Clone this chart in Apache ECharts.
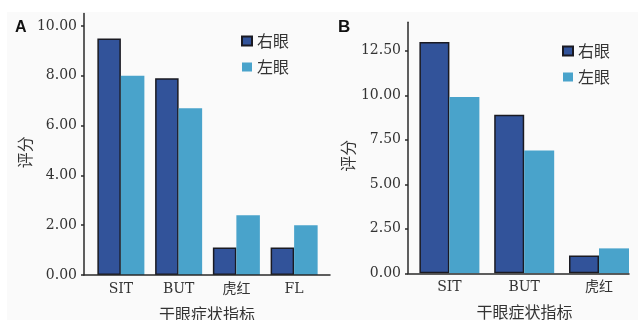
<!DOCTYPE html>
<html><head><meta charset="utf-8">
<script src="https://cdn.jsdelivr.net/npm/echarts@6/dist/echarts.min.js"></script>
<style>html,body{margin:0;padding:0;background:#fafafa}#c{width:638px;height:320px}</style>
</head><body><div id="c"></div>
<script>
var categoriesA = ['SIT', 'BUT', '虎红', 'FL'];
var rightEyeA = [9.5, 7.9, 1.1, 1.1];
var leftEyeA = [8.0, 6.7, 2.4, 2.0];
var ticksA = [0, 2, 4, 6, 8, 10];

var categoriesB = ['SIT', 'BUT', '虎红'];
var rightEyeB = [13.0, 8.9, 1.0];
var leftEyeB = [9.9, 6.9, 1.4];
var ticksB = [0, 2.5, 5, 7.5, 10, 12.5];

var seriesNames = ['右眼', '左眼'];

var DARK = '#32539a', LIGHT = '#49a3cb';
var serif = "'DejaVu Serif', 'Noto Sans CJK SC', serif";
var cjk = "'Noto Sans CJK SC', sans-serif";

var chart = echarts.init(document.getElementById('c'), null, {renderer: 'canvas'});

function labelAxis(gridIndex, max, ticks, nameGap) {
  return {
    type: 'value', gridIndex: gridIndex, min: 0, max: max,
    axisLine: {show: true, lineStyle: {color: '#2a2a2a', width: 1.5}},
    axisTick: {show: true, length: 3, customValues: ticks, lineStyle: {color: '#2a2a2a', width: 1.5}},
    axisLabel: {customValues: ticks, margin: 7, color: '#333', fontFamily: serif, fontSize: 14,
      formatter: function (v) { return v.toFixed(2); }},
    splitLine: {show: false},
    name: '评分', nameLocation: 'middle', nameGap: nameGap, nameRotate: 90,
    nameTextStyle: {fontFamily: cjk, fontSize: 16, color: '#333', padding: [0, 16, 0, 0]}
  };
}
function hiddenY(gridIndex, max) {
  return {type: 'value', gridIndex: gridIndex, min: 0, max: max, show: false, splitLine: {show: false}};
}
function lineX(gridIndex, padLeft) {
  return {
    type: 'value', gridIndex: gridIndex, min: 0, max: 1, z: 5,
    axisLine: {show: true, onZero: false, lineStyle: {color: '#2a2a2a', width: 1.5}},
    axisTick: {show: false}, axisLabel: {show: false}, splitLine: {show: false},
    name: '干眼症状指标', nameLocation: 'middle', nameGap: 31,
    nameTextStyle: {fontFamily: cjk, fontSize: 16, color: '#333', padding: [0, 0, 0, padLeft]}
  };
}
function catX(gridIndex, cats) {
  return {
    type: 'category', gridIndex: gridIndex, data: cats,
    axisLine: {show: false}, axisTick: {show: false},
    axisLabel: {margin: 7, color: '#333', fontFamily: serif, fontSize: 14}
  };
}
function barSeries(name, xi, yi, data, color, border, gap) {
  return {
    type: 'bar', name: name, xAxisIndex: xi, yAxisIndex: yi, data: data,
    barGap: '0%', barCategoryGap: gap,
    itemStyle: {color: color, borderColor: border, borderWidth: border === 'transparent' ? 0 : 1.5},
    emphasis: {disabled: true}
  };
}
function grid(l, r, t, b) {
  return {left: l, right: r, top: t, bottom: b, containLabel: false, outerBoundsMode: 'none'};
}

chart.setOption({
  backgroundColor: '#fafafa',
  animation: false,
  graphic: [
    {type: 'rect', shape: {x: 0, y: 0, width: 638, height: 12}, style: {fill: '#ffffff'}, z: -10},
    {type: 'rect', shape: {x: 0, y: 0, width: 7, height: 320}, style: {fill: '#ffffff'}, z: -10}
  ],
  title: [
    {text: 'A', left: 10, top: 15, textStyle: {fontFamily: "'Liberation Sans', Arial, sans-serif", fontWeight: 'bold', fontSize: 16, color: '#111'}},
    {text: 'B', left: 333, top: 14, textStyle: {fontFamily: "'Liberation Sans', Arial, sans-serif", fontWeight: 'bold', fontSize: 17, color: '#111'}}
  ],
  legend: [
    {data: seriesNames, orient: 'vertical', left: 236, top: 28, itemWidth: 10, itemHeight: 9, itemGap: 10, icon: 'rect',
      textStyle: {fontFamily: cjk, fontSize: 16, color: '#333'}, selectedMode: false},
    {data: seriesNames, orient: 'vertical', left: 557, top: 38, itemWidth: 10, itemHeight: 9, itemGap: 10, icon: 'rect',
      textStyle: {fontFamily: cjk, fontSize: 16, color: '#333'}, selectedMode: false}
  ],
  grid: [
    grid(92, 315, 13.5, 45),     // A bars
    grid(84, 308, 13.5, 45),     // A axes
    grid(412, 1.6, 22.3, 46.7),  // B bars
    grid(408, 9, 22.3, 46.7)     // B axes
  ],
  xAxis: [catX(0, categoriesA), lineX(1, 0), catX(2, categoriesB), lineX(3, 12)],
  yAxis: [hiddenY(0, 10.5), labelAxis(1, 10.5, ticksA, 50), hiddenY(2, 14.1), labelAxis(3, 14.1, ticksB, 52)],
  series: [
    barSeries(seriesNames[0], 0, 0, rightEyeA, DARK, '#1a1a22', '18.6%'),
    barSeries(seriesNames[1], 0, 0, leftEyeA, LIGHT, 'transparent', '18.6%'),
    barSeries(seriesNames[0], 2, 2, rightEyeB, DARK, '#1a1a22', '19.8%'),
    barSeries(seriesNames[1], 2, 2, leftEyeB, LIGHT, 'transparent', '19.8%')
  ]
});
</script></body></html>
